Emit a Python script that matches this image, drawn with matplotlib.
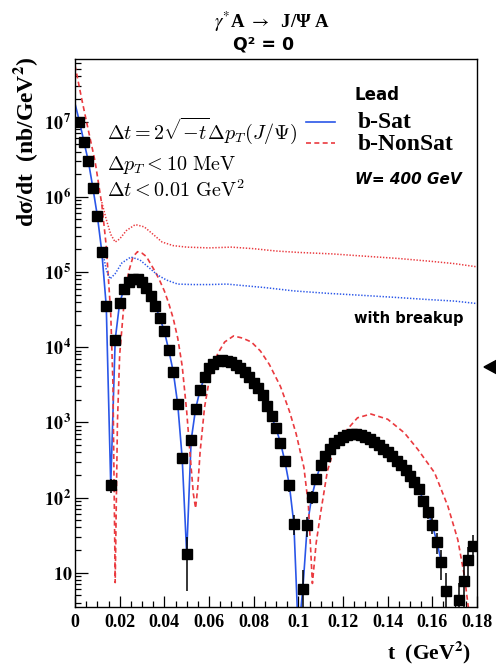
import numpy as np
import matplotlib
matplotlib.use("Agg")
import matplotlib.pyplot as plt
from matplotlib.lines import Line2D
from matplotlib.patches import Polygon
from matplotlib.ticker import FixedLocator, FuncFormatter, LogLocator, NullFormatter

# ---------------- data ----------------
t_data = [0.002, 0.004, 0.006, 0.008, 0.010, 0.012, 0.014, 0.016, 0.018, 0.020,
          0.022, 0.024, 0.026, 0.028, 0.030, 0.032, 0.034, 0.036, 0.038, 0.040,
          0.042, 0.044, 0.046, 0.048, 0.050, 0.052, 0.054, 0.056, 0.058, 0.060,
          0.062, 0.064, 0.066, 0.068, 0.070, 0.072, 0.074, 0.076, 0.078, 0.080,
          0.082, 0.084, 0.086, 0.088, 0.090, 0.092, 0.094, 0.096, 0.098, 0.100,
          0.102, 0.104, 0.106, 0.108, 0.110, 0.112, 0.114, 0.116, 0.118, 0.120,
          0.122, 0.124, 0.126, 0.128, 0.130, 0.132, 0.134, 0.136, 0.138, 0.140,
          0.142, 0.144, 0.146, 0.148, 0.150, 0.152, 0.154, 0.156, 0.158, 0.160,
          0.162, 0.164, 0.166, 0.168, 0.170, 0.172, 0.174, 0.176, 0.178]
nan = float("nan")
dsdt = [1.0e7, 5.4e6, 2.95e6, 1.32e6, 5.6e5, 1.86e5, 3.5e4, 145, 1.26e4, 3.9e4,
        6.0e4, 7.4e4, 8.1e4, 8.1e4, 7.4e4, 6.2e4, 4.8e4, 3.5e4, 2.45e4, 1.62e4,
        9.1e3, 4.7e3, 1.74e3, 331, 17.8, 575, 1.51e3, 2.69e3, 3.98e3, 5.25e3,
        6.0e3, 6.45e3, 6.75e3, 6.6e3, 6.3e3, 5.75e3, 5.25e3, 4.7e3, 3.98e3, 3.3e3,
        2.88e3, 2.29e3, 1.66e3, 1.2e3, 832, 537, 302, 145, 44.7, nan,
        6.0, 42.7, 102, 178, 269, 355, 447, 525, 589, 646,
        676, 692, 692, 676, 646, 603, 550, 501, 447, 398,
        355, 309, 269, 229, 195, 162, 129, 91, 65, 43,
        26, 14, 5.8, nan, nan, 4.4, 7.8, 14.8, 22.4]
dsdt_err = [0, 0, 0, 0, 0, 0, 0, 30, 0, 0,
            0, 0, 0, 0, 0, 0, 0, 0, 0, 0,
            0, 0, 0, 40, 12, 50, 0, 0, 0, 0,
            0, 0, 0, 0, 0, 0, 0, 0, 0, 0,
            0, 0, 0, 0, 0, 0, 30, 25, 13, 0,
            5, 13, 20, 25, 30, 0, 0, 0, 0, 0,
            0, 0, 0, 0, 0, 0, 0, 0, 0, 0,
            0, 0, 0, 0, 0, 20, 18, 15, 13, 10,
            8, 6, 4, 0, 0, 3, 5, 7, 9.5]

# b-Sat curve: follows the data, plus its value at t=0 and its deep dip at t=0.1
bsat_extra_t = [0.0, 0.100]
bsat_extra = [1.74e7, 1.5]
bsat_tmax = 0.164

# b-NonSat curve
nonsat_t = [0.000, 0.003, 0.006, 0.009, 0.012, 0.014, 0.016, 0.017, 0.018, 0.019,
            0.020, 0.022, 0.024, 0.026, 0.028, 0.030, 0.032, 0.034, 0.036, 0.038,
            0.040, 0.042, 0.044, 0.046, 0.048, 0.050, 0.052, 0.053, 0.054, 0.055,
            0.056, 0.058, 0.060, 0.062, 0.064, 0.067, 0.071, 0.075, 0.079, 0.083,
            0.087, 0.092, 0.096, 0.099, 0.1025, 0.1045, 0.1063, 0.108, 0.110, 0.113,
            0.116, 0.1205, 0.1265, 0.1325, 0.140, 0.1475, 0.1535, 0.161, 0.167, 0.1714,
            0.1744, 0.1765, 0.1775]
nonsat = [5.6e7, 2.0e7, 7.6e6, 2.95e6, 7.9e5, 2.2e5, 2.8e4, 3.2e3, 7.4, 1.0e3,
          7.9e3, 4.0e4, 1.0e5, 1.6e5, 1.86e5, 1.78e5, 1.6e5, 1.26e5, 1.0e5, 7.6e4,
          5.6e4, 3.8e4, 2.4e4, 1.32e4, 5.6e3, 1.41e3, 251, 112, 72, 141,
          398, 1.58e3, 3.5e3, 6.0e3, 8.3e3, 1.17e4, 1.41e4, 1.32e4, 1.17e4, 8.9e3,
          5.9e3, 3.0e3, 1.41e3, 708, 251, 79, 7.2, 25, 63, 224,
          447, 724, 1.15e3, 1.29e3, 1.1e3, 724, 437, 214, 76, 27.5,
          8.9, 2.8, 1.5]

# with breakup (incoherent added)
nonsat_bu_t = [0.012, 0.014, 0.016, 0.018, 0.020, 0.023, 0.027, 0.031, 0.035, 0.039,
               0.044, 0.050, 0.060, 0.070, 0.080, 0.090, 0.100, 0.115, 0.130, 0.145,
               0.160, 0.170, 0.180]
nonsat_bu = [8.5e5, 5.0e5, 3.16e5, 2.5e5, 2.75e5, 3.55e5, 4.27e5, 3.98e5, 3.16e5, 2.5e5,
             2.24e5, 2.14e5, 2.09e5, 2.14e5, 2.04e5, 1.9e5, 1.82e5, 1.74e5, 1.62e5, 1.51e5,
             1.38e5, 1.29e5, 1.17e5]
sat_bu_t = [0.0125, 0.014, 0.0157, 0.018, 0.021, 0.025, 0.029, 0.033, 0.037, 0.041,
            0.046, 0.053, 0.060, 0.068, 0.075, 0.085, 0.098, 0.113, 0.128, 0.143,
            0.158, 0.170, 0.180]
sat_bu = [1.78e5, 1.07e5, 8.1e4, 9.5e4, 1.32e5, 1.58e5, 1.45e5, 1.15e5, 9.1e4, 7.8e4,
          6.9e4, 6.8e4, 6.8e4, 6.9e4, 6.6e4, 6.2e4, 5.6e4, 5.2e4, 4.9e4, 4.6e4,
          4.3e4, 4.1e4, 3.8e4]

x_ticks = [0, 0.02, 0.04, 0.06, 0.08, 0.1, 0.12, 0.14, 0.16, 0.18]
x_tick_labels = ["0", "0.02", "0.04", "0.06", "0.08", "0.1", "0.12", "0.14", "0.16", "0.18"]
y_ticks = [1e1, 1e2, 1e3, 1e4, 1e5, 1e6, 1e7]

# ---------------- style ----------------
plt.rcParams["mathtext.fontset"] = "stix"
SERIF = ["Liberation Serif", "DejaVu Serif"]
SANS = ["DejaVu Sans"]
BLUE = "#2a56e8"
RED = "#ea3a3f"

W, H = 496, 672
fig = plt.figure(figsize=(W / 100, H / 100), dpi=100)


def fx(px):
    return px / W


def fy(py):
    return 1 - py / H


ax_l, ax_r, ax_t, ax_b = 75, 477, 59, 607
ax = fig.add_axes([fx(ax_l), fy(ax_b), fx(ax_r) - fx(ax_l), fy(ax_t) - fy(ax_b)])
ax.set_yscale("log")
ax.set_xlim(0, 0.18)
ax.set_ylim(3.5, 6.8e7)

td = np.array(t_data)
vd = np.array(dsdt)
ed = np.array(dsdt_err)

# b-Sat model curve
mask = (~np.isnan(vd)) & (td <= bsat_tmax + 1e-9)
st = np.concatenate([td[mask], bsat_extra_t])
sv = np.concatenate([vd[mask], bsat_extra])
order = np.argsort(st)
ax.plot(st[order], sv[order], color=BLUE, lw=1.2, zorder=2)

# b-NonSat
ax.plot(nonsat_t, nonsat, color=RED, lw=1.2, dashes=(3, 2), zorder=2)

# with breakup
ax.plot(nonsat_bu_t, nonsat_bu, color=RED, lw=1.1, dashes=(0.9, 1.1), zorder=2)
ax.plot(sat_bu_t, sat_bu, color=BLUE, lw=1.1, dashes=(0.9, 1.1), zorder=2)

# data points with error bars
ok = ~np.isnan(vd)
ax.errorbar(td[ok], vd[ok], yerr=ed[ok], fmt="s", color="black", ms=6.5,
            elinewidth=1.1, capsize=0, zorder=3)

# axes styling
for s in ax.spines.values():
    s.set_linewidth(1.0)
ax.xaxis.set_major_locator(FixedLocator(x_ticks))
ax.xaxis.set_major_formatter(FuncFormatter(lambda v, p: x_tick_labels[p] if p is not None and p < len(x_tick_labels) else ""))
ax.xaxis.set_minor_locator(FixedLocator(np.arange(0, 0.1801, 0.005)))
ax.yaxis.set_major_locator(FixedLocator(y_ticks))


def yfmt(v, p):
    e = int(round(np.log10(v)))
    if e == 1:
        return r"$\mathbf{10}$"
    return r"$\mathbf{10^{\,%d}}$" % e


ax.yaxis.set_major_formatter(FuncFormatter(yfmt))
ax.yaxis.set_minor_locator(LogLocator(base=10, subs=np.arange(2, 10), numticks=20))
ax.yaxis.set_minor_formatter(NullFormatter())
ax.tick_params(axis="both", which="both", direction="in", top=False, right=False)
ax.tick_params(axis="x", which="major", length=8, width=0.9, pad=5)
ax.tick_params(axis="x", which="minor", length=4, width=0.9)
ax.tick_params(axis="y", which="major", length=9, width=0.9, pad=2)
ax.tick_params(axis="y", which="minor", length=4.5, width=0.9)
for lab in ax.get_xticklabels():
    lab.set_fontfamily(SERIF)
    lab.set_fontweight("bold")
    lab.set_fontsize(13)
for lab in ax.get_yticklabels():
    lab.set_fontsize(13)

# titles and axis labels
fig.text(fx(272), fy(22), r"$\gamma^{*}$A $\rightarrow$  J/Ψ A", family=SERIF, weight="bold",
         fontsize=13.5, ha="center", va="center")
fig.text(fx(264), fy(45), "Q² = 0", family=SANS, weight="bold", fontsize=12.5,
         ha="center", va="center")
fig.text(fx(26), fy(56), r"dσ/dt  (nb/GeV$^{\mathbf{2}}$)", family=SERIF, weight="bold",
         fontsize=17, rotation=90, ha="center", va="top")
fig.text(fx(471), fy(652), r"t  (GeV$^{\mathbf{2}}$)", family=SERIF, weight="bold",
         fontsize=15.5, ha="right", va="center")

# legend
fig.text(fx(355), fy(95), "Lead", family=SANS, weight="bold", fontsize=12, ha="left", va="center")
fig.add_artist(Line2D([fx(306), fx(335)], [fy(122), fy(122)], color=BLUE, lw=1.2))
fig.add_artist(Line2D([fx(306), fx(335)], [fy(143), fy(143)], color=RED, lw=1.2, dashes=(3, 2)))
fig.text(fx(358), fy(122), "b-Sat", family=SERIF, weight="bold", fontsize=17, ha="left", va="center")
fig.text(fx(358), fy(144), "b-NonSat", family=SERIF, weight="bold", fontsize=17, ha="left", va="center")
fig.text(fx(355), fy(180), "W= 400 GeV", family=SANS, weight="bold", style="italic",
         fontsize=11, ha="left", va="center")
fig.text(fx(354), fy(319), "with breakup", family=SANS, weight="bold", fontsize=10.5,
         ha="left", va="center")

# annotations
fig.text(fx(107), fy(131), r"$\Delta t = 2\sqrt{-t}\Delta p_T(J/\Psi)$", math_fontfamily="cm",
         fontsize=14.5, ha="left", va="center")
fig.text(fx(107), fy(165), r"$\Delta p_T < 10\ \mathrm{MeV}$", math_fontfamily="cm",
         fontsize=14.5, ha="left", va="center")
fig.text(fx(107), fy(190), r"$\Delta t < 0.01\ \mathrm{GeV}^2$", math_fontfamily="cm",
         fontsize=14.5, ha="left", va="center")

# cropped marker at the right edge of the page
fig.add_artist(Polygon([[fx(484), fy(367)], [fx(497), fy(360)], [fx(497), fy(374)]],
                       closed=True, color="black", transform=fig.transFigure))

fig.savefig("out.png", dpi=100)
